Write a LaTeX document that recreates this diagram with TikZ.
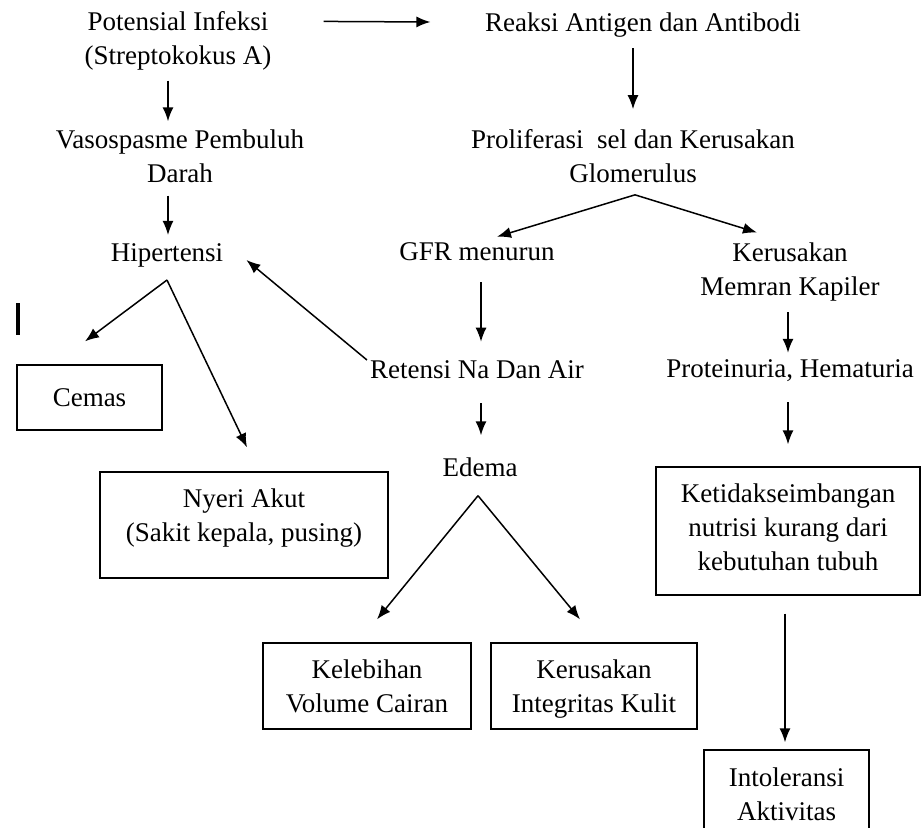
\documentclass[tikz,border=0pt]{standalone}
\usepackage{fontspec}
\setmainfont{Liberation Serif}
\usepackage{tikz}
\usetikzlibrary{arrows.meta}

\tikzset{
  txt/.style={inner sep=0pt, align=center},
  box/.style={draw, line width=1.3pt, inner sep=0pt, align=center},
  arr/.style={-{Latex[length=14pt,width=11pt]}, line width=1.5pt}
}

\begin{document}
\begin{tikzpicture}[x=1pt, y=-1pt, font=\fontsize{27}{34}\selectfont]
% frame
\clip (0,0) rectangle (923,827);
% left column
\node[txt] (pot) at (178,41) {Potensial Infeksi\\(Streptokokus A)};
\node[txt] (vaso) at (180,156) {Vasospasme Pembuluh\\Darah};
\node[txt] (hiper) at (167,255) {Hipertensi};
\node[box, minimum width=145pt, minimum height=65pt] (cemas) at (89.5,397.5) {Cemas};
\node[box, minimum width=288pt, minimum height=106pt] (nyeri) at (244,525) {Nyeri Akut\\(Sakit kepala, pusing)\\[-14pt]\mbox{}};
% middle column
\node[txt] (reaksi) at (643,25) {Reaksi Antigen dan Antibodi};
\node[txt] (prolif) at (633,156) {Proliferasi\ \ sel dan Kerusakan\\Glomerulus};
\node[txt] (gfr) at (477,252) {GFR menurun};
\node[txt] (retensi) at (477,370) {Retensi Na Dan Air};
\node[txt] (edema) at (480,467) {Edema};
\node[box, minimum width=208pt, minimum height=86pt] (lebih) at (367,686) {Kelebihan\\Volume Cairan};
\node[box, minimum width=206pt, minimum height=86pt] (kulit) at (594,686) {Kerusakan\\\raisebox{0pt}[\height][0pt]{Integritas Kulit}};
% right column
\node[txt] (kapiler) at (790,272) {Kerusakan\\Memran Kapiler};
\node[txt] (protein) at (790,371) {Proteinuria, Hematuria};
\node[box, minimum width=264pt, minimum height=128pt] (nutrisi) at (788,531) {Ketidakseimbangan\\nutrisi kurang dari\\kebutuhan tubuh\\[-27pt]\mbox{}};
\node[box, minimum width=165pt, minimum height=88pt] (intol) at (786.5,794) {Intoleransi\\Aktivitas};
% arrows
\draw[arr] ([xshift=52pt,yshift=-10pt]pot.north east) -- ([xshift=-54.5pt,yshift=3pt]reaksi.west);
\draw[arr] ([xshift=-10pt,yshift=-11pt]reaksi.south) -- ([yshift=20pt]prolif.north);
\draw[arr] ([xshift=-10pt,yshift=-10pt]pot.south) -- ([xshift=-12pt,yshift=8pt]vaso.north);
\draw[arr] ([xshift=-12pt,yshift=-13pt]vaso.south) -- ([xshift=1pt,yshift=8pt]hiper.north);
\draw[arr] ([xshift=2pt,yshift=-12pt]prolif.south) -- ([xshift=20pt,yshift=6pt]gfr.north);
\draw[arr] ([xshift=2pt,yshift=-12pt]prolif.south) -- ([xshift=-33pt,yshift=10pt]kapiler.north);
\draw[arr] ([yshift=-13pt]hiper.south) -- ([xshift=-4.5pt,yshift=23pt]cemas.north);
\draw[arr] ([yshift=-13pt]hiper.south) -- ([xshift=3pt,yshift=24pt]nyeri.north);
\draw[arr] ([xshift=-3pt,yshift=10pt]retensi.west) -- ([xshift=23pt,yshift=-5pt]hiper.east);
\draw[arr] ([xshift=4pt,yshift=-21pt]gfr.south) -- ([xshift=4pt,yshift=19pt]retensi.north);
\draw[arr] ([xshift=4pt,yshift=-24pt]retensi.south) -- ([xshift=1pt,yshift=22pt]edema.north);
\draw[arr] ([xshift=-2pt,yshift=-11pt]kapiler.south) -- ([xshift=-2pt,yshift=7pt]protein.north);
\draw[arr] ([xshift=-2pt,yshift=-20pt]protein.south) -- ([yshift=22pt]nutrisi.north);
\draw[arr] ([xshift=-2pt,yshift=-19pt]edema.south) -- ([xshift=10pt,yshift=23pt]lebih.north);
\draw[arr] ([xshift=-2pt,yshift=-19pt]edema.south) -- ([xshift=-14pt,yshift=23pt]kulit.north);
\draw[arr] ([xshift=-3pt,yshift=-18pt]nutrisi.south) -- ([xshift=-1.5pt,yshift=7pt]intol.north);
% mark
\draw[line width=3.5pt] (18,303) -- (18,335);
\end{tikzpicture}
\end{document}
